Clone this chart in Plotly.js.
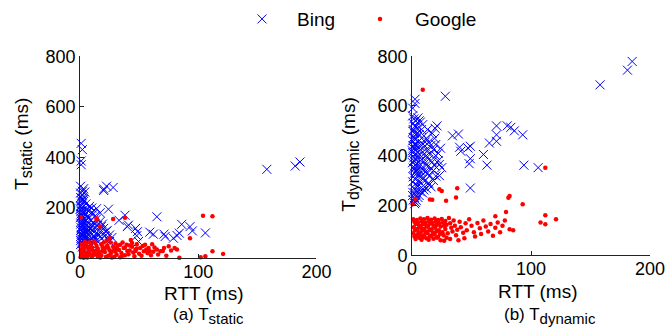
<!DOCTYPE html>
<html>
<head>
<meta charset="utf-8">
<script src="https://cdn.plot.ly/plotly-3.0.1.min.js"></script>
<style>html,body{margin:0;padding:0;background:#fff;}#chart{width:668px;height:334px;}</style>
</head>
<body>
<div id="chart"></div>
<script>
// ---- Data ----
const seriesNames = ["Bing", "Google"];
const xTicks = [0, 100, 200];
const yTicks = [0, 200, 400, 600, 800];
const xTitle = "RTT (ms)";
const yTitleStatic = "T<sub><span style='font-size:16px'>static</span></sub> (ms)";
const yTitleDynamic = "T<sub><span style='font-size:16px'>dynamic</span></sub> (ms)";
const captionA = "(a) T<sub><span style='font-size:15px'>static</span></sub>";
const captionB = "(b) T<sub><span style='font-size:15px'>dynamic</span></sub>";

// (a) T_static — Bing
const bingStaticRtt = [1,2,1,1,0.5,3,4,20,20,28,22.5,158,182,186,65,38,33,41,40,47,48.6,48,49.5,59,62,71,72,79,82,84,86,93,95,106,24,14,10,17,7,11,25,22,20,27,25,
  0.5,1,2,0.5,1.5,3,0.8,2.5,4,1,0.3,2,5,1.2,3.5,0.6,6,2,4.5,1,8,3,0.5,6.5,2,9,4,1,7,12,3,5.5,0.8,10,2.5,14,6,1.5,4,9,0.5,3,7,2,11,13,15,16,18,12,9,14,7,5,10,13,17,19,16,18,21,8,5,3,1.5,0.5,2,11,6,4,3,1,0.5,2,8,10,6,12,15,20,23,0.3,0.8,1.5,2.5,3.5,5,7,9,4,2,1,6,3,2];
const bingStaticT = [455,430,385,370,285,275,262,274,268,280,285,352,365,381,164,170,150,131,125,118,105,89,66,103,95,95,86,79,90,99,134,125,108,100,194,196,199,180,188,174,92,105,118,82,66,
  240,228,215,205,198,192,186,178,172,168,160,155,150,146,140,135,132,128,124,120,118,113,110,107,103,100,97,94,90,88,85,82,78,76,72,70,67,64,60,57,54,50,47,44,62,80,95,110,125,138,148,155,162,175,182,168,145,135,92,78,88,205,215,225,250,258,265,128,142,112,98,88,70,58,72,112,100,104,130,100,110,195,175,138,92,66,80,122,130,156,182,208,190,232,238];

// (a) T_static — Google
const googleStaticRtt = [28,38,14,104,112,93,43,25,22.5,0.6,17,14,121,112,106,102,84,82,80,75,71,68,65,62,59,55,56,54,51,47,42,39.5,34,37,
  1,2,3,0.5,1.5,2.5,4,1,0.5,3,5,6,7,8,5.5,6.5,9,10,11,12,9,10,13,14,15,16,13,15,17,18,19,20,21,18,22,23,24,25,26,24,27,28,29,30,31,29,32,33,35,36,34,38,40,41,44,45,46,48,50,52,57,60,63,66,70,73,77,48,44,36,30,26,20,12,8,4,3,7,11,16,19,22,27,31,6,14,1,2,53,58,61,47,38,42];
const googleStaticT = [155,160,158,168,166,79,72,79,69,162,125,151,17,27,8,4,2,34,40,47,40,27,34,25,27,53,34,27,40,34,30,53,53,40,
  55,48,40,32,25,18,12,8,4,2,58,45,36,28,20,10,52,42,30,22,15,6,60,48,38,26,16,8,3,55,44,35,24,12,6,50,40,30,18,10,3,45,36,25,14,6,50,32,20,10,4,42,28,16,45,22,8,38,18,10,20,12,42,15,28,10,30,55,60,62,58,62,62,66,63,65,26,20,12,18,28,42,26,40,3,30,16,38,48,40,55,28,12,50];

// (b) T_dynamic — Bing
const bingDynRtt = [185,181,158,28,2.5,2.5,0.6,21,19.4,34,39,71,80,83,86,93,71,71,65,49,40,41,47,49,48,60,63,94,106,49,25,23,18,13.5,2.2,3.6,
  0.5,1.5,3,5,7,1,2.5,4.5,8,0.8,2,6,10,1.2,3.5,12,0.5,5,8.5,14,2,4,7,11,16,1,3,6,9,13,18,0.6,2.5,5,8,12,15,20,1.5,4,7,10,14,17,22,0.4,3,6,9,12,16,19,23,1,4,7,11,2,5,8,1,3,6,9,0.5,2.5,5,8,1.5,4,10,0.8,3,6,2,1,0.5,2,4,1,3,0.3,0.8,1.5,2.5,3.5,10,13,15,18,20,11,14,16,7,9,12,5,3,6,9,13,17,11,19,20,24,22];
const bingDynT = [779,744,685,639,627,610,591,520,510,480,487,520,520,514,500,484,484,458,451,438,434,418,431,388,368,405,362,362,352,270,352,320,300,287,207,220,
  560,548,540,552,535,530,520,510,505,498,490,485,480,472,468,470,460,455,450,455,445,440,436,438,442,430,425,420,415,420,425,412,405,400,396,400,405,400,392,385,380,376,385,375,380,372,365,360,355,362,350,360,365,350,342,338,335,330,322,318,315,305,298,305,295,285,278,272,268,260,262,252,245,240,232,222,240,470,490,505,515,420,440,380,350,335,340,330,320,340,318,300,290,275,255,250,268,232,212,540,525,505,490,455,470,445,430,410];

// (b) T_dynamic — Google
const googleDynRtt = [9,112,23,25,38,37,28.6,15,17,82,81,93,2.7,79,112,121,108,112,82,70,0.5,
  1,2,3,1.5,2.5,1,2,3,4,5,6,4.5,5.5,4,6,7,8,9,7.5,8.5,7,9,8,10,11,12,10.5,11.5,10,12,13,14,15,13.5,14.5,13,15,14,16,17,18,16.5,17.5,16,18,19,20,21,19.5,20.5,19,21,22,23,24,22.5,23.5,22,24,25,26,27,25.5,26.5,28,29,28,30,29,31,32,33,34,35,36,38,37,40,41,43,45,46,48,50,52,53,55,57,58,60,62,64,66,68,70,72,74,76,78,85,44,39,32,27];
const googleDynT = [665,352,265,258,269,232,219,224,223,238,231,205,227,174,161,145,132,124,104,157,205,
  145,135,125,112,100,88,75,65,142,130,118,105,92,80,70,148,137,124,110,98,85,72,62,145,132,120,106,93,80,68,150,138,126,114,100,88,75,62,143,130,118,104,90,78,66,148,135,122,110,96,83,70,142,128,115,100,86,74,60,146,132,118,92,80,138,122,105,88,70,150,128,110,95,140,118,102,80,135,112,90,128,100,145,118,92,75,130,108,85,140,115,95,125,78,110,132,92,118,140,100,68,60,65,58];

// ---- Chart ----
const BLUE = "#0000ff", RED = "#ff0000";
const FONT = "Liberation Sans, Arial, Helvetica, sans-serif";
function bing(x, y, xa, ya, show) {
  return {x: x, y: y, xaxis: xa, yaxis: ya, type: "scatter", mode: "markers", name: seriesNames[0],
    showlegend: show, legend: "legend", cliponaxis: false,
    marker: {symbol: "x-thin-open", size: 9, color: BLUE, line: {color: BLUE, width: 1}}};
}
function goog(x, y, xa, ya, show) {
  return {x: x, y: y, xaxis: xa, yaxis: ya, type: "scatter", mode: "markers", name: seriesNames[1],
    showlegend: show, legend: "legend2", cliponaxis: false,
    marker: {symbol: "circle", size: 4.5, color: RED, line: {width: 0}}};
}
const data = [
  bing(bingStaticRtt, bingStaticT, "x", "y", true),
  goog(googleStaticRtt, googleStaticT, "x", "y", true),
  bing(bingDynRtt, bingDynT, "x2", "y2", false),
  goog(googleDynRtt, googleDynT, "x2", "y2", false)
];
function xax(domain, anchor) {
  return {domain: domain, anchor: anchor, range: [0, 200], tickvals: xTicks, ticktext: xTicks.map(String),
    ticks: "inside", ticklen: 4, tickcolor: "#222", showline: true, linecolor: "#222", linewidth: 1,
    ticklabelstandoff: -3,
    showgrid: false, zeroline: false, tickfont: {size: 18, family: FONT, color: "#000"}};
}
function yax(domain, anchor) {
  return {domain: domain, anchor: anchor, range: [0, 800], tickvals: yTicks, ticktext: yTicks.map(String),
    ticks: "inside", ticklen: 4, tickcolor: "#222", showline: true, linecolor: "#222", linewidth: 1,
    showgrid: false, zeroline: false, tickfont: {size: 18, family: FONT, color: "#000"}};
}
function note(text, px, py, size, angle) {
  return {text: text, xref: "paper", yref: "paper", x: px / 668, y: 1 - py / 334, xanchor: "center", yanchor: "middle",
    showarrow: false, textangle: angle || 0, font: {size: size, family: FONT, color: "#000"}};
}
function leg(px) {
  return {orientation: "h", x: px / 668, xanchor: "left", y: 1.015, yanchor: "top",
    itemwidth: 60, font: {size: 19, family: FONT, color: "#000"}, bgcolor: "rgba(0,0,0,0)", borderwidth: 0,
    itemclick: false};
}
const layout = {
  width: 668, height: 334,
  margin: {l: 0, r: 0, t: 0, b: 0},
  paper_bgcolor: "#fff", plot_bgcolor: "#fff",
  font: {family: FONT, size: 18, color: "#000"},
  showlegend: true,
  legend: leg(227),
  legend2: leg(345),
  xaxis: xax([0.1198, 0.4738], "y"),
  yaxis: yax([0.2305, 0.8443], "x"),
  xaxis2: xax([0.6168, 0.9731], "y2"),
  yaxis2: yax([0.2395, 0.8443], "x2"),
  annotations: [
    note(xTitle, 204, 293, 19),
    note(xTitle, 538, 291, 19),
    note(yTitleStatic, 23, 141, 19, -90),
    note(yTitleDynamic, 350, 152, 19, -90),
    note(captionA, 208, 316, 17),
    note(captionB, 550, 316, 17)
  ]
};
Plotly.newPlot("chart", data, layout, {staticPlot: true, displayModeBar: false});
</script>
</body>
</html>
